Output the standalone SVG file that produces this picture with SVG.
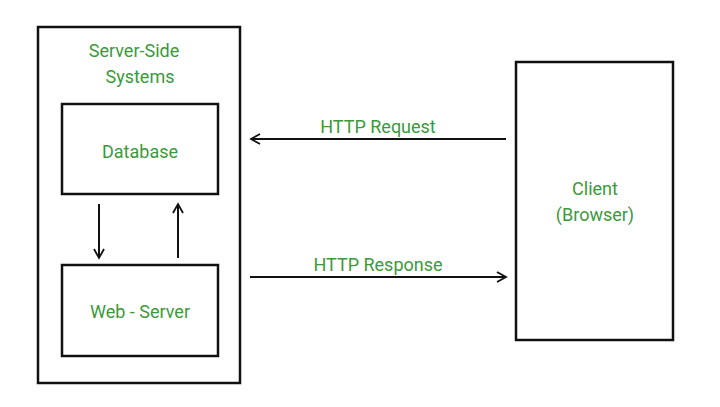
<svg xmlns="http://www.w3.org/2000/svg" width="720" height="407" viewBox="0 0 720 407">
<style>
.b{fill:#fff;stroke:#111;stroke-width:2.5}
.t{font-family:"Roboto","Liberation Sans",sans-serif;font-size:18px;fill:#3a9a3a;text-anchor:middle}
.c{stroke:#111;stroke-width:2;fill:none;marker-end:url(#a)}
</style>
<defs><marker id="a" markerWidth="12" markerHeight="12" refX="10" refY="6" orient="auto" markerUnits="userSpaceOnUse"><path d="M1,1 L10,6 L1,11" fill="none" stroke="#111" stroke-width="1.8"/></marker></defs>
<rect width="720" height="407" fill="#fff"/>
<g id="server"><rect class="b" x="38" y="27" width="202" height="356"/><text class="t" x="134" y="57">Server-Side</text><text class="t" x="140" y="83">Systems</text></g>
<g id="database"><rect class="b" x="62" y="104" width="156" height="90"/><text class="t" x="140" y="158">Database</text></g>
<g id="webserver"><rect class="b" x="62" y="265" width="156" height="91"/><text class="t" x="140" y="318">Web - Server</text></g>
<g id="client"><rect class="b" x="516" y="62" width="157" height="278"/><text class="t" x="595" y="195">Client</text><text class="t" x="595" y="221">(Browser)</text></g>
<g id="connectors">
<path class="c" d="M506,139 H251"/><text class="t" x="378" y="133">HTTP Request</text>
<path class="c" d="M250,277 H506"/><text class="t" x="378" y="271">HTTP Response</text>
<path class="c" d="M99,204 V258"/>
<path class="c" d="M178,258 V204"/>
</g>
</svg>
